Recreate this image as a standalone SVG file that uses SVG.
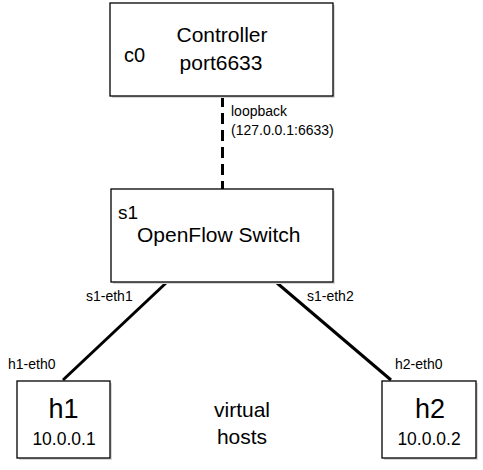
<svg xmlns="http://www.w3.org/2000/svg" width="483" height="470" viewBox="0 0 483 470">
<style>
.box{fill:#fff;stroke:#000;stroke-width:1.3}
.sh{fill:#d8d8d8}
text{font-family:"Liberation Sans",Arial,sans-serif;fill:#000}
.big{font-size:21px}
.sm{font-size:14px}
.ip{font-size:17.5px}
.hn{font-size:27px}
.link{stroke:#000;stroke-width:3;fill:none}
</style>
<rect width="483" height="470" fill="#fff"/>
<g id="connectors">
<line class="link" x1="222.5" y1="96" x2="222.5" y2="189" stroke-dasharray="11,6"/>
<line class="link" x1="166" y1="283" x2="63" y2="380"/>
<line class="link" x1="277" y1="283" x2="391" y2="380"/>
</g>
<g id="c0">
<rect class="sh" x="112" y="5" width="223" height="93"/>
<rect class="box" x="110" y="3" width="223" height="93"/>
<text x="124" y="62" font-size="20">c0</text>
<text class="big" x="222" y="42" text-anchor="middle">Controller</text>
<text class="big" x="221" y="70" text-anchor="middle">port6633</text>
</g>
<text class="sm" x="231" y="116">loopback</text>
<text class="sm" x="231" y="135">(127.0.0.1:6633)</text>
<g id="s1">
<rect class="sh" x="113" y="191" width="222" height="93"/>
<rect class="box" x="111" y="189" width="222" height="93"/>
<text x="118" y="219" font-size="19">s1</text>
<text class="big" x="137" y="242">OpenFlow Switch</text>
</g>
<text class="sm" x="86" y="301">s1-eth1</text>
<text class="sm" x="307" y="301">s1-eth2</text>
<text class="sm" x="8" y="369">h1-eth0</text>
<text class="sm" x="395" y="369">h2-eth0</text>
<g id="h1">
<rect class="sh" x="19" y="383" width="93" height="77"/>
<rect class="box" x="17" y="381" width="93" height="77"/>
<text class="hn" x="63.5" y="418" text-anchor="middle">h1</text>
<text class="ip" x="64" y="445" text-anchor="middle">10.0.0.1</text>
</g>
<g id="h2">
<rect class="sh" x="384" y="383" width="94" height="77"/>
<rect class="box" x="382" y="381" width="94" height="77"/>
<text class="hn" x="430" y="418" text-anchor="middle">h2</text>
<text class="ip" x="429" y="445" text-anchor="middle">10.0.0.2</text>
</g>
<text class="big" x="242" y="417" text-anchor="middle">virtual</text>
<text class="big" x="242" y="444" text-anchor="middle">hosts</text>
</svg>
